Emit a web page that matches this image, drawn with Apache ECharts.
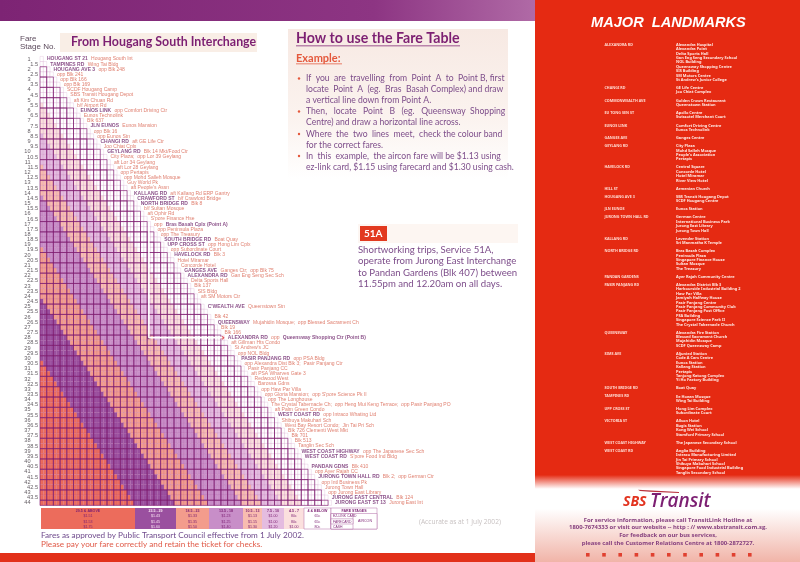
<!DOCTYPE html>
<html style="height: 100%">

<head>
    <meta charset="utf-8">
</head>

<body style="height: 100%; margin: 0; background: #fff">

    <div id="container" style="width: 800px; height: 562px"></div>

    <script type="text/javascript" src="https://cdn.jsdelivr.net/npm/echarts@6/dist/echarts.min.js"></script>

    <script type="text/javascript">
        var fareStages = ['1', '1.5', '2', '2.5', '3', '3.5', '4', '4.5', '5', '5.5', '6', '6.5', '7', '7.5', '8', '8.5',
            '9', '9.5', '10', '10.5', '11', '11.5', '12', '12.5', '13', '13.5', '14', '14.5', '15', '15.5', '16', '16.5',
            '17', '17.5', '18', '18.5', '19', '19.5', '20', '20.5', '21', '21.5', '22', '22.5', '23', '23.5', '24', '24.5',
            '25', '25.5', '26', '26.5', '27', '27.5', '28', '28.5', '29', '29.5', '30', '30.5', '31', '31.5', '32', '32.5',
            '33', '33.5', '34', '34.5', '35', '35.5', '36', '36.5', '37', '37.5', '38', '38.5', '39', '39.5', '40', '40.5',
            '41', '41.5', '42', '42.5', '43', '43.5', '44'];

        var stopNames = ['Hougang South Int', 'Wing Tai Bldg', 'opp Blk 248', 'opp Blk 241', 'opp Blk 166', 'opp Blk 169',
            'SCDF Hougang Camp', 'SBS Transit Hougang Depot', 'aft Kim Chuan Rd', 'b/f Airport Rd',
            'opp Comfort Driving Ctr', 'Eunos Technolink', 'Blk 637', 'Eunos Mansion', 'opp Blk 16', 'opp Eunos Stn',
            'aft GE Life Ctr', 'Joo Chiat Cplx', 'Blk 14 Mkt/Food Ctr', 'City Plaza;  opp Lor 39 Geylang',
            'aft Lor 34 Geylang', 'aft Lor 28 Geylang', 'opp Pertapis', 'opp Mohd Salleh Mosque', 'Guy World Pk',
            "aft People's Assn", 'aft Kallang Rd ERP Gantry', 'b/f Crawford Bridge', 'Blk 8', 'b/f Sultan Mosque',
            'aft Ophir Rd', "S'pore Finance Hse", 'opp', 'opp Peninsula Plaza', 'opp The Treasury', 'Boat Quay',
            'opp Hong Lim Cplx', 'opp Subordinate Court', 'Blk 3', 'Hotel Miramar', 'Concorde Hotel',
            'Ganges Ctr;  opp Blk 75', 'Gan Eng Seng Sec Sch', 'Delta Sports Hall', 'Blk 137', 'SIS Bldg',
            'aft SM Motors Ctr', '', 'Queenstown Stn', '', 'Blk 42', 'Mujahidin Mosque;  opp Blessed Sacrament Ch',
            'Blk 19', 'Blk 166', 'opp', 'aft Gillman Hts Condo', "St Andrew's JC", 'opp NOL Bldg', 'opp PSA Bldg',
            'opp Alexandra Dist Blk 3;  Pasir Panjang Ctr', 'Pasir Panjang CC', 'aft PSA Wharves Gate 3', 'Redwood West',
            'Barossa Gdns', 'opp Haw Par Villa', "opp Gloria Mansion;  opp S'pore Science Pk II", 'opp The Longhouse',
            'The Crystal Tabernacle Ch;  opp Heng Mui Keng Terrace;  opp Pasir Panjang PO', 'aft Palm Green Condo',
            'opp Intraco Whating Ltd', 'Shibuya Makuhari Sch', 'West Bay Resort Condo;  Jin Tai Pri Sch',
            'Blk 726 Clementi West Mkt', 'Blk 701', 'Blk 513', 'Tanglin Sec Sch', 'opp The Japanese Sec Sch',
            "S'pore Food Ind Bldg", '', 'Blk 410', 'opp Ayer Rajah CC', 'Blk 2;  opp German Ctr', 'opp Intl Business Pk',
            'Jurong Town Hall', 'opp Jurong East Library', 'Blk 124', 'Jurong East Int'];

        var roadNames = {
            '1': 'HOUGANG ST 21', '1.5': 'TAMPINES RD', '2': 'HOUGANG AVE 3', '6': 'EUNOS LINK', '7.5': 'JLN EUNOS',
            '9': 'CHANGI RD', '10': 'GEYLANG RD', '14': 'KALLANG RD', '14.5': 'CRAWFORD ST', '15': 'NORTH BRIDGE RD',
            '18.5': 'SOUTH BRIDGE RD', '19': 'UPP CROSS ST', '20': 'HAVELOCK RD', '21.5': 'GANGES AVE', '22': 'ALEXANDRA RD',
            '25': "C'WEALTH AVE", '26.5': 'QUEENSWAY', '28': 'ALEXANDRA RD', '30': 'PASIR PANJANG RD', '35.5': 'WEST COAST RD',
            '39': 'WEST COAST HIGHWAY', '39.5': 'WEST COAST RD', '40.5': 'PANDAN GDNS', '41.5': 'JURONG TOWN HALL RD',
            '43.5': 'JURONG EAST CENTRAL', '44': 'JURONG EAST ST 13'
        };
        var pointNames = { '17': 'Bras Basah Cplx (Point A)', '28': 'Queensway Shopping Ctr (Point B)' };
        var pointA = '17';
        var pointB = '28';

        // fare bands, dearest first
        var bandLabels = ['29.5 & ABOVE', '23.5 - 29', '18.5 - 23', '13.5 - 18', '10.5 - 13', '7.5 - 10', '4.5 - 7', '4 & BELOW'];
        var bandFloors = [29.5, 23.5, 18.5, 13.5, 10.5, 7.5, 4.5, 0];
        var ezlinkFares = ['$1.51', '$1.43', '$1.33', '$1.23', '$1.13', '$1.00', '80c', '65c'];
        var farecardFares = ['$1.53', '$1.45', '$1.35', '$1.25', '$1.15', '$1.00', '80c', '65c'];
        var cashFares = ['$1.75', '$1.60', '$1.50', '$1.40', '$1.30', '$1.20', '$1.00', '80c'];
        var bandColors = ['#ec6c5c', '#9a509f', '#f39c8c', '#c88ec8', '#f8bcb0', '#e4bce0', '#fbe0de', '#ffffff'];
        var legendEdges = [41, 135, 176, 209, 243, 262, 284, 304, 331];

        var landmarks = [
            ['ALEXANDRA RD', ['Alexandra Hospital', 'Alexandra Point', 'Delta Sports Hall', 'Gan Eng Seng Secondary School', 'NOL Building', 'Queensway Shopping Centre', 'SIS Building', 'SM Motors Centre', "St Andrew's Junior College"]],
            ['CHANGI RD', ['GE Life Centre', 'Joo Chiat Complex']],
            ['COMMONWEALTH AVE', ['Golden Crown Restaurant', 'Queenstown Station']],
            ['EU TONG SEN ST', ['Apollo Centre', 'Swissotel Merchant Court']],
            ['EUNOS LINK', ['Comfort Driving Centre', 'Eunos Technolink']],
            ['GANGES AVE', ['Ganges Centre']],
            ['GEYLANG RD', ['City Plaza', 'Mohd Salleh Mosque', "People's Association", 'Pertapis']],
            ['HAVELOCK RD', ['Central Square', 'Concorde Hotel', 'Hotel Miramar', 'River View Hotel']],
            ['HILL ST', ['Armenian Church']],
            ['HOUGANG AVE 3', ['SBS Transit Hougang Depot', 'SCDF Hougang Centre']],
            ['JLN EUNOS', ['Eunos Station']],
            ['JURONG TOWN HALL RD', ['German Centre', 'International Business Park', 'Jurong East Library', 'Jurong Town Hall']],
            ['KALLANG RD', ['Lavender Station', 'Sri Manmatha K Temple']],
            ['NORTH BRIDGE RD', ['Bras Basah Complex', 'Peninsula Plaza', 'Singapore Finance House', 'Sultan Mosque', 'The Treasury']],
            ['PANDAN GARDENS', ['Ayer Rajah Community Centre']],
            ['PASIR PANJANG RD', ['Alexandra District Blk 3', 'Harbourside Industrial Building 2', 'Haw Par Villa', 'Jamiyah Halfway House', 'Pasir Panjang Centre', 'Pasir Panjang Community Club', 'Pasir Panjang Post Office', 'PSA Building', 'Singapore Science Park II', 'The Crystal Tabernacle Church']],
            ['QUEENSWAY', ['Alexandra Fire Station', 'Blessed Sacrament Church', 'Mujahidin Mosque', 'SCDF Queensway Camp']],
            ['SIMS AVE', ['Aljunied Station', 'Code A Cars Centre', 'Eunos Station', 'Kallang Station', 'Pertapis', 'Tanjong Katong Complex', 'Yi Ho Factory Building']],
            ['SOUTH BRIDGE RD', ['Boat Quay']],
            ['TAMPINES RD', ['Ee Hoean Mosque', 'Wing Tai Building']],
            ['UPP CROSS ST', ['Hong Lim Complex', 'Subordinate Court']],
            ['VICTORIA ST', ['Allson Hotel', 'Bugis Station', 'Kong Wei School', 'Stamford Primary School']],
            ['WEST COAST HIGHWAY', ['The Japanese Secondary School']],
            ['WEST COAST RD', ['Anglia Building', 'Intraco Manufacturing Limited', 'Jin Tai Primary School', 'Shibuya Makuhari School', 'Singapore Food Industrial Building', 'Tanglin Secondary School']]
        ];

        // one cell per from/to stage pair, coloured by the band the distance falls in
        var cells = [];
        var blocks = [];
        var stopLabels = [];
        fareStages.forEach(function(to, r) {
            stopLabels.push([to, to]);
            for (var c = 0; c <= r; c++) {
                var distance = to - fareStages[c];
                var band = 0;
                while (distance < bandFloors[band]) band++;
                cells.push([c, r, band]);
                // heavy lines mark whole stages, the last whole stage stays outside the box
                if (c % 2 == 0 && r % 2 == 0 && c < r) blocks.push([c, r, r == fareStages.length - 1 ? 1 : 2]);
            }
        });

        function stopLabel(params) {
            var stage = fareStages[params.dataIndex];
            var text = '';
            if (roadNames[stage]) text += '{road|' + roadNames[stage] + '} ';
            if (stopNames[params.dataIndex]) text += '{stop|' + stopNames[params.dataIndex] + '}';
            if (pointNames[stage]) text += ' {road|' + pointNames[stage] + '}';
            return text;
        }

        function txt(x, y, text, size, color, extra) {
            var style = {
                text: text,
                fontSize: size,
                fontFamily: 'Lato',
                fill: color,
                textVerticalAlign: 'middle'
            };
            for (var k in extra) style[k] = extra[k];
            return { type: 'text', x: x, y: y, silent: true, style: style };
        }

        function box(x, y, w, h, fill, stroke) {
            return {
                type: 'rect',
                silent: true,
                shape: { x: x, y: y, width: w, height: h },
                style: { fill: fill, stroke: stroke || null, lineWidth: 0.5 }
            };
        }

        function vfade(stops) {
            return new echarts.graphic.LinearGradient(0, 0, 0, 1, stops);
        }

        var RED = '#e52a12';
        var PURPLE = '#7c1f72';
        var LAND = 'Noto Sans';

        var shapes = [];
        // paper
        shapes.push(box(0, 0, 535, 21, new echarts.graphic.LinearGradient(0, 0, 1, 0, [
            { offset: 0, color: '#7d2474' }, { offset: 0.7, color: '#8d3583' }, { offset: 1, color: '#b06aa6' }
        ])));
        shapes.push(box(0, 553, 535, 9, '#e2301a'));
        shapes.push(box(535, 0, 265, 562, vfade([
            { offset: 0, color: RED }, { offset: 0.845, color: RED }, { offset: 0.87, color: '#ffffff' },
            { offset: 0.905, color: '#ffffff' }, { offset: 1, color: '#f1b4a8' }
        ])));

        // left heading
        shapes.push(txt(20, 39, 'Fare', 8, '#5c4a5c', { fontFamily: 'Liberation Sans' }));
        shapes.push(txt(20, 47, 'Stage No.', 8, '#5c4a5c', { fontFamily: 'Liberation Sans' }));
        shapes.push(box(60, 33, 197, 19, '#f9eee6'));
        shapes.push(txt(71, 42, 'From Hougang South Interchange', 12.4, PURPLE, { fontWeight: 'bold' }));

        // how to use panel
        shapes.push(box(288, 29, 220, 150, vfade([
            { offset: 0, color: '#f7e9e3' }, { offset: 0.6, color: '#fbf3ef' }, { offset: 1, color: '#ffffff' }
        ])));
        shapes.push(txt(296, 38, 'How to use the Fare Table', 14.2, PURPLE, { fontWeight: 'bold' }));
        shapes.push(box(296, 45.5, 164, 0.8, PURPLE));
        shapes.push(txt(296, 58, 'Example:', 11, '#e4583c', { fontWeight: 'bold' }));
        shapes.push(box(296, 63.5, 46, 0.7, '#e4583c'));

        var howRich = {
            p: { fontFamily: 'Lato', fontSize: 8.6, color: '#7d4d8a' },
            r: { fontFamily: 'Lato', fontSize: 8.6, color: '#e4583c' }
        };
        var howLines = [
            [78.5, '{p|If  you  are  travelling  from  Point  A  to  Point B, first}'],
            [89.5, '{p|locate  Point  A}  {r|(eg.  Bras  Basah Complex)} {p|and draw}'],
            [100.5, '{p|a vertical line down from Point A.}'],
            [111.5, '{p|Then,   locate   Point   B}   {r|(eg.   Queensway  Shopping}'],
            [122.5, '{r|Centre)} {p|and draw a horizontal line across.}'],
            [134, '{p|Where  the  two  lines  meet,  check the colour band}'],
            [145, '{p|for the correct fares.}'],
            [156, '{p|In  this  example,  the aircon fare will be} {r|$1.13} {p|using}'],
            [167.5, '{p|ez-link card,} {r|$1.15} {p|using farecard and} {r|$1.30} {p|using cash.}']
        ];
        howLines.forEach(function(line) {
            shapes.push(txt(306, line[0], line[1], 8.6, '#7d4d8a', { rich: howRich }));
        });
        [78.5, 111.5, 134, 156].forEach(function(y) {
            shapes.push({ type: 'circle', silent: true, shape: { cx: 299, cy: y, r: 1.2 }, style: { fill: '#e4583c' } });
        });

        // 51A note
        shapes.push(box(358, 224, 160, 19, '#fdf6f2'));
        shapes.push(box(360, 226, 27, 15, '#e23a20'));
        shapes.push(txt(364, 233.5, '51A', 10, '#ffffff', { fontWeight: 'bold' }));
        ['Shortworking trips, Service 51A,', 'operate from Jurong East Interchange',
            'to Pandan Gardens (Blk 407) between', '11.55pm and 12.20am on all days.'].forEach(function(line, i) {
            shapes.push(txt(358, 250 + i * 11.4, line, 9.6, '#7d4d8a'));
        });

        // colour key under the table
        var fareRows = [bandLabels, ezlinkFares, farecardFares, cashFares];
        var rowY = [511, 516.2, 521.6, 526.8];
        bandLabels.forEach(function(label, i) {
            var x0 = legendEdges[i];
            var w = legendEdges[i + 1] - x0;
            shapes.push(box(x0, 508, w, 21, bandColors[i], i == 7 ? '#b06aa6' : null));
            fareRows.forEach(function(row, j) {
                shapes.push(txt(x0 + w / 2, rowY[j], row[i], 3.6, i == 1 ? '#fbe4f4' : '#7c1f72',
                    { fontFamily: 'Liberation Sans', textAlign: 'center', fontWeight: j == 0 ? 'bold' : 'normal' }));
            });
        });
        shapes.push(box(331, 508, 46, 21, '#ffffff', '#b06aa6'));
        shapes.push(box(331, 513.5, 46, 15.5, '#ffffff', '#b06aa6'));
        shapes.push(box(331, 513.5, 22, 15.5, '#ffffff', '#b06aa6'));
        shapes.push(box(331, 518.8, 22, 5.2, '#ffffff', '#b06aa6'));
        shapes.push(txt(354, 511, 'FARE STAGES', 3.6, PURPLE, { fontFamily: 'Liberation Sans', textAlign: 'center', fontWeight: 'bold' }));
        ['EZ-LINK CARD', 'FARECARD', 'CASH'].forEach(function(t, i) {
            shapes.push(txt(333, rowY[i + 1], t, 3.4, PURPLE, { fontFamily: 'Liberation Sans' }));
        });
        shapes.push(txt(365, 521, 'AIRCON', 3.6, PURPLE, { fontFamily: 'Liberation Sans', textAlign: 'center' }));

        shapes.push(txt(41, 535, 'Fares as approved by Public Transport Council effective from 1 July 2002.', 8.2, '#6f4a8c'));
        shapes.push(txt(41, 544, 'Please pay your fare correctly and retain the ticket for checks.', 8.2, '#e05a48'));
        shapes.push(txt(419, 522, '(Accurate as at 1 July 2002)', 6.6, '#c8c2c2', { fontFamily: 'Open Sans' }));

        // landmarks panel
        shapes.push(txt(591, 23, 'MAJOR  LANDMARKS', 14.6, '#ffffff', {
            fontWeight: 'bold', fontStyle: 'italic', fontFamily: 'Liberation Sans',
            textShadowColor: '#6a2a90', textShadowBlur: 0, textShadowOffsetX: 1, textShadowOffsetY: 1
        }));
        var landY = 44.7;
        landmarks.forEach(function(group) {
            shapes.push(txt(604.5, landY, group[0], 3.7, '#ffd9d0', { fontFamily: LAND, fontWeight: 'bold' }));
            group[1].forEach(function(name, i) {
                shapes.push(txt(676, landY + i * 4.4, name, 3.9, '#ffe9e4', { fontFamily: LAND, fontWeight: 'bold' }));
            });
            landY += group[1].length * 4.4 + 3.69;
        });

        // logo and contact lines
        shapes.push({
            type: 'polygon', silent: true,
            shape: { points: [[638, 489.8], [679, 492], [679, 493], [650, 491.8], [640, 491]] },
            style: { fill: '#b8303c' }
        });
        shapes.push(txt(623, 502, 'SBS', 14, '#e2331f', { fontFamily: 'Open Sans', fontWeight: 'bold', fontStyle: 'italic' }));
        shapes.push(txt(650, 502, 'Transit', 19, PURPLE, { fontFamily: 'Open Sans', fontWeight: '600', fontStyle: 'italic' }));
        ['For service information, please call TransitLink Hotline at',
            '1800-7674333 or visit our website -- http : // www.sbstransit.com.sg.',
            'For feedback on our bus services,',
            'please call the Customer Relations Centre at 1800-2872727.'].forEach(function(line, i) {
            shapes.push(txt(668, 520 + i * 7.7, line, 5.9, '#86407f', { fontFamily: 'Open Sans', textAlign: 'center', fontWeight: 'bold' }));
        });
        for (var s = 0; s < 11; s++) {
            shapes.push(box(586 + s * 16.2, 553, 3.6, 3.6, '#e04030'));
        }

        var myChart = echarts.init(document.getElementById('container'));

        var option = {
            animation: false,
            backgroundColor: '#ffffff',
            graphic: { elements: shapes },
            grid: { left: 40, top: 56.4, width: 291.45, height: 449, containLabel: false },
            xAxis: { type: 'category', data: fareStages, show: false },
            yAxis: {
                type: 'category',
                data: fareStages,
                inverse: true,
                axisLine: { show: false },
                axisTick: { show: false },
                splitLine: { show: false },
                axisLabel: {
                    interval: 0,
                    margin: 2,
                    formatter: function(value) {
                        return value.indexOf('.') < 0 ? '{whole|' + value + '}' : '{half|' + value + '}';
                    },
                    rich: {
                        whole: { fontSize: 5.6, color: '#666066', fontFamily: 'Liberation Sans', padding: [0, 7.5, 0, 0] },
                        half: { fontSize: 5.6, color: '#666066', fontFamily: 'Liberation Sans' }
                    }
                }
            },
            series: [{
                type: 'custom',
                data: cells,
                encode: { x: 0, y: 1 },
                progressive: 0,
                silent: true,
                renderItem: function(params, api) {
                    var p = api.coord([api.value(0), api.value(1)]);
                    var s = api.size([1, 1]);
                    return {
                        type: 'rect',
                        shape: { x: p[0] - s[0] / 2, y: p[1] - s[1] / 2, width: s[0], height: s[1] },
                        style: { fill: bandColors[api.value(2)], stroke: 'rgba(170,60,150,0.32)', lineWidth: 0.4 }
                    };
                }
            }, {
                type: 'custom',
                data: blocks,
                encode: { x: 0, y: 1 },
                progressive: 0,
                silent: true,
                renderItem: function(params, api) {
                    var p = api.coord([api.value(0), api.value(1)]);
                    var s = api.size([1, 1]);
                    return {
                        type: 'rect',
                        shape: { x: p[0] - s[0] / 2, y: p[1] - s[1] / 2, width: s[0] * 2, height: s[1] * api.value(2) },
                        style: { fill: 'none', stroke: 'rgba(125,25,110,0.9)', lineWidth: 0.65 }
                    };
                }
            }, {
                // route from point A down to point B
                type: 'line',
                data: [[pointA, pointA], [pointA, pointB], [pointB, pointB]],
                symbol: 'none',
                silent: true,
                lineStyle: { color: '#ffffff', width: 1.6 }
            }, {
                type: 'scatter',
                data: [[pointA, pointB]],
                symbol: 'rect',
                symbolSize: 3,
                silent: true,
                itemStyle: { color: '#6a1458' }
            }, {
                type: 'scatter',
                data: [[pointB, pointB]],
                symbol: 'diamond',
                symbolSize: 4,
                silent: true,
                itemStyle: { color: '#d8202a' }
            }, {
                // stop names run down the staircase
                type: 'scatter',
                data: stopLabels,
                symbolSize: 0,
                silent: true,
                label: {
                    show: true,
                    position: 'right',
                    distance: 5.2,
                    formatter: stopLabel,
                    rich: {
                        road: { fontFamily: 'Liberation Sans', fontWeight: 'bold', fontSize: 5, color: '#6a1f68' },
                        stop: { fontFamily: 'Liberation Sans', fontSize: 5, color: '#d8604c' }
                    }
                }
            }]
        };

        myChart.setOption(option);
    </script>
</body>

</html>
